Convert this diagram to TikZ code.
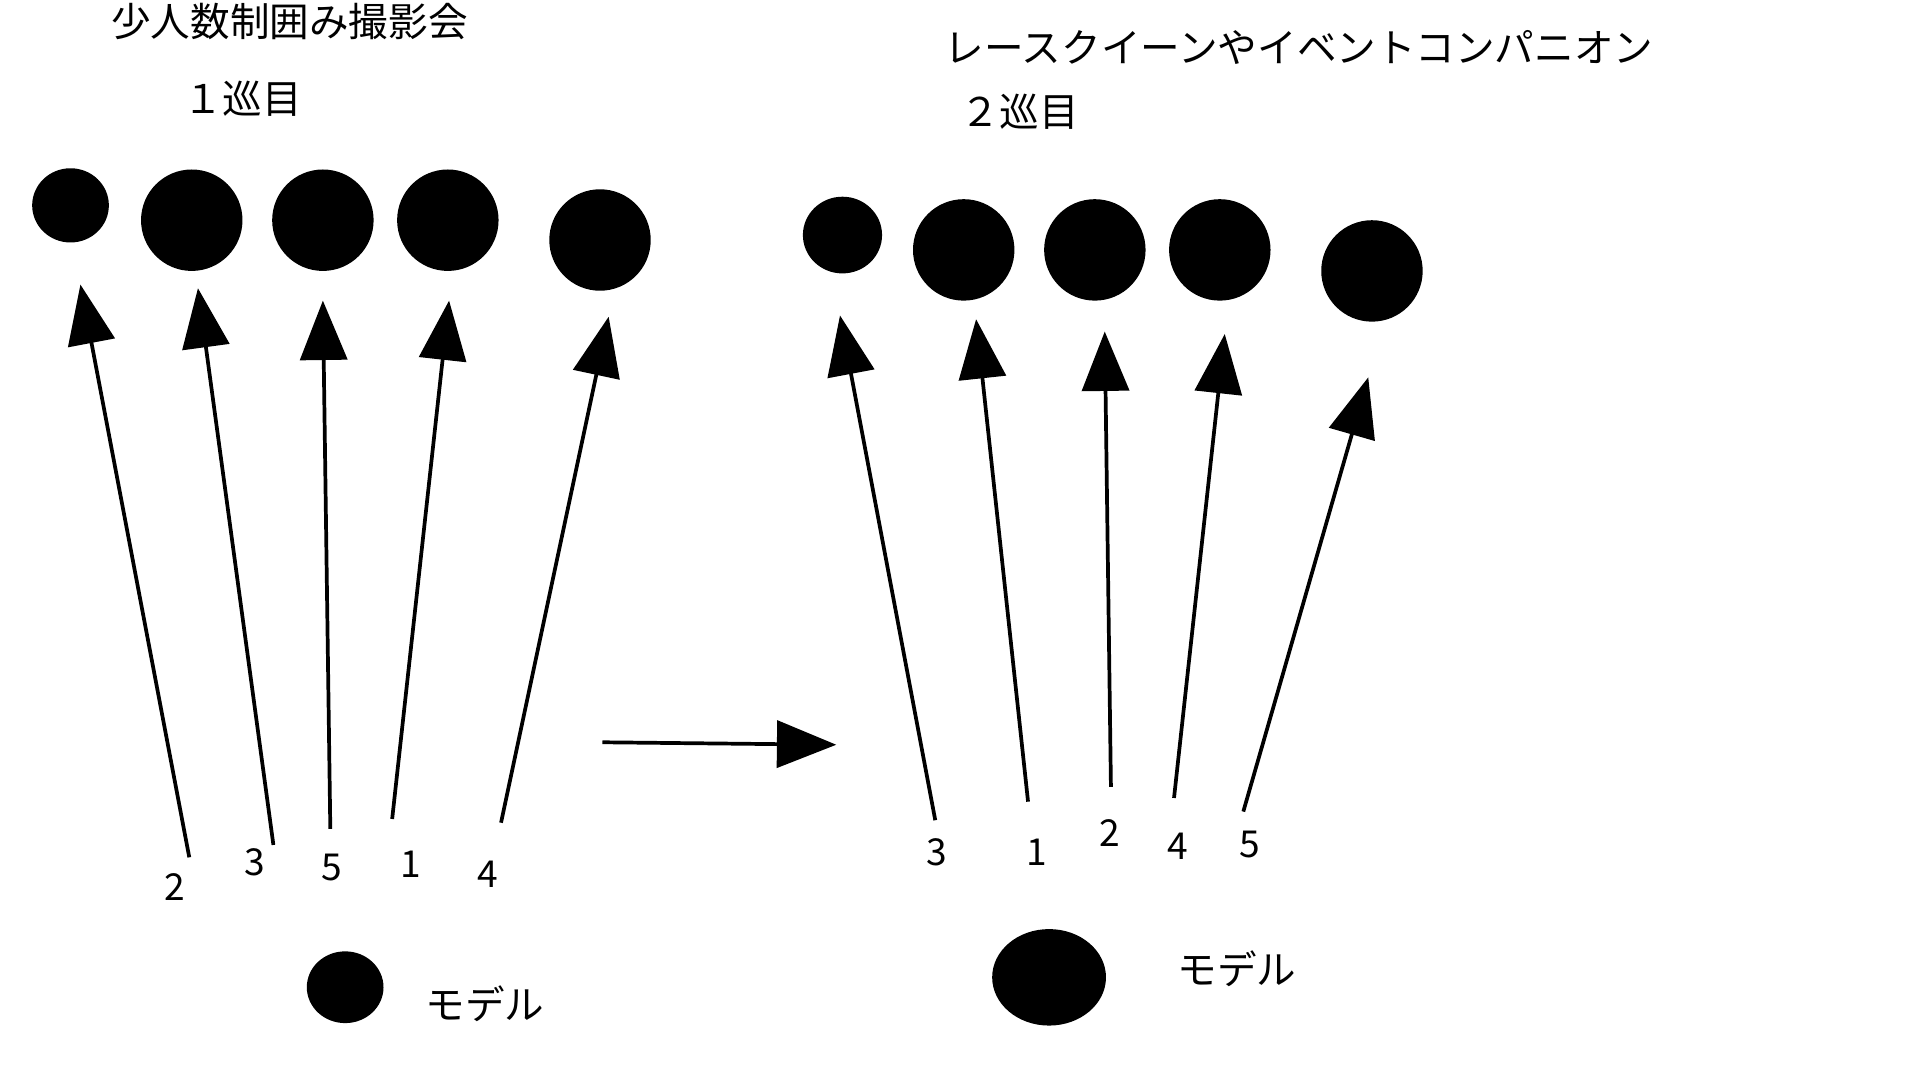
\documentclass[tikz,border=0pt]{standalone}
\usepackage{fontspec}
\setmainfont{Noto Sans CJK JP}
\usetikzlibrary{arrows.meta}
\begin{document}
\begin{tikzpicture}[x=1pt,y=-1pt,
  dot/.style={fill=black},
  arr/.style={line width=3pt,-{Triangle[length=48pt,width=38pt]}},
  lab/.style={font=\fontsize{30}{34}\selectfont,inner sep=0pt},
  ttl/.style={font=\fontsize{32}{36}\selectfont,inner sep=0pt}]
\useasboundingbox (0,0) rectangle (1552,873);
% circles left
\fill[dot] (57,166) ellipse (31 and 30);
\fill[dot] (155,178) circle (41);
\fill[dot] (261,178) circle (41);
\fill[dot] (362,178) circle (41);
\fill[dot] (485,194) circle (41);
% circles right
\fill[dot] (681,190) ellipse (32 and 31);
\fill[dot] (779,202) circle (41);
\fill[dot] (885,202) circle (41);
\fill[dot] (986,202) circle (41);
\fill[dot] (1109,219) circle (41);
% legend
\fill[dot] (279,798) ellipse (31 and 29);
\fill[dot] (848,790) ellipse (46 and 39);
% arrows left
\coordinate (a1) at (153,693); \coordinate (b1) at (65,230);
\coordinate (a2) at (221,683); \coordinate (b2) at (160,233);
\coordinate (a3) at (267,670); \coordinate (b3) at (261,243);
\coordinate (a4) at (317,662); \coordinate (b4) at (363,243);
\coordinate (a5) at (405,665); \coordinate (b5) at (492,256);
\foreach \i in {1,...,5} \draw[arr] (a\i) -- (b\i);
% arrows right
\coordinate (c1) at (756,663); \coordinate (d1) at (679,255);
\coordinate (c2) at (831,648); \coordinate (d2) at (789,258);
\coordinate (c3) at (898,636); \coordinate (d3) at (893,268);
\coordinate (c4) at (949,645); \coordinate (d4) at (990,270);
\coordinate (c5) at (1005,656); \coordinate (d5) at (1106,305);
\foreach \i in {1,...,5} \draw[arr] (c\i) -- (d\i);
% middle
\coordinate (m1) at (487,600); \coordinate (m2) at (676,602);
\draw[arr] (m1) -- (m2);
% labels
\node[lab] (l1) at (141,717) {2};
\node[lab] (l2) at (206,697) {3};
\node[lab] (l3) at (268,701) {5};
\node[lab] (l4) at (332,699) {1};
\node[lab] (l5) at (394,707) {4};
\node[lab] (r1) at (757,689) {3};
\node[lab] (r2) at (838,689) {1};
\node[lab] (r3) at (897,673) {2};
\node[lab] (r4) at (952,684) {4};
\node[lab] (r5) at (1010,683) {5};
\node[ttl] (t1) at (234,17) {少人数制囲み撮影会};
\node[ttl] (t2) at (196,80) {１巡目};
\node[ttl] (t3) at (1050,38) {レースクイーンやイベントコンパニオン};
\node[ttl] (t4) at (824,90) {２巡目};
\node[ttl] (m3) at (392,811) {モデル};
\node[ttl] (m4) at (1000,783) {モデル};
\end{tikzpicture}
\end{document}
